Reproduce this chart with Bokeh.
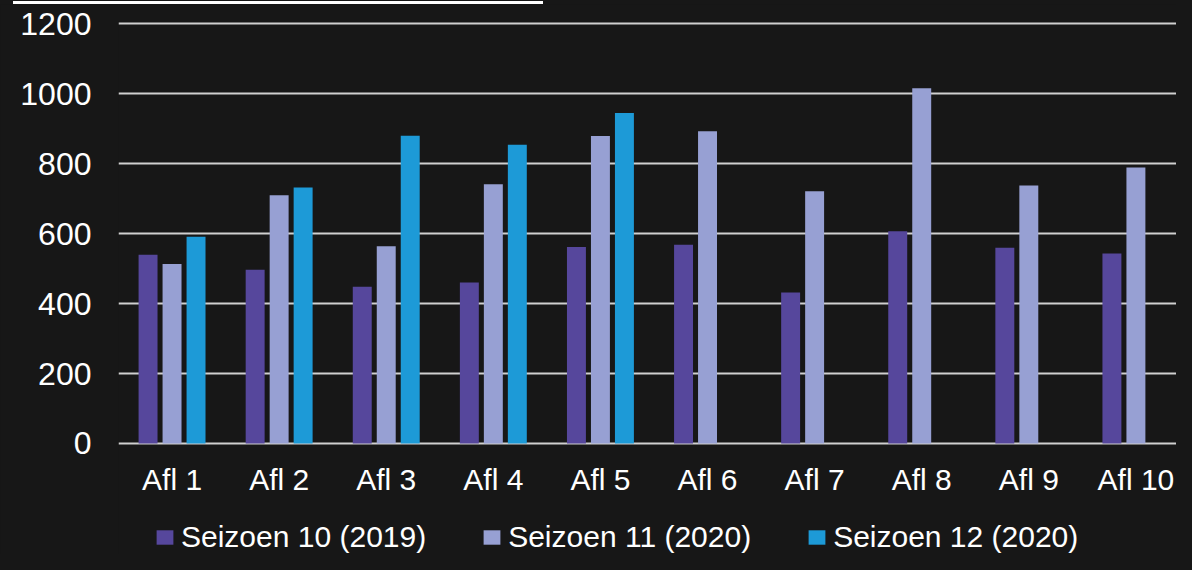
from bokeh.plotting import figure
from bokeh.models import (Range1d, FixedTicker, ColumnDataSource, Legend, LegendItem,
                          LinearAxis, Div, GlobalInlineStyleSheet)
from bokeh.layouts import column
from bokeh.transform import dodge
from bokeh.embed import file_html
from bokeh.resources import INLINE

# ---- data ----
categories = ["Afl 1", "Afl 2", "Afl 3", "Afl 4", "Afl 5",
              "Afl 6", "Afl 7", "Afl 8", "Afl 9", "Afl 10"]
seizoen_10 = [540, 497, 448, 460, 562, 568, 432, 607, 560, 543]
seizoen_11 = [513, 710, 564, 741, 879, 893, 721, 1016, 738, 789]
seizoen_12 = [591, 732, 880, 854, 945]
series_names = ["Seizoen 10 (2019)", "Seizoen 11 (2020)", "Seizoen 12 (2020)"]
y_ticks = [0, 200, 400, 600, 800, 1000, 1200]

colors = ["#56479c", "#97a0d3", "#1d9ad7"]
BG = "#171717"
FONT = "Liberation Sans"

idx = list(range(len(categories)))
src_a = ColumnDataSource(dict(x=idx, top=seizoen_10))
src_b = ColumnDataSource(dict(x=idx, top=seizoen_11))
src_c = ColumnDataSource(dict(x=idx[:len(seizoen_12)], top=seizoen_12))

p = figure(width=1176, height=550, output_backend="svg", toolbar_location=None,
           x_range=Range1d(-0.5, 9.379), y_range=Range1d(-317.4, 1206.6),
           x_axis_location=None,
           min_border_left=118, min_border_right=0, min_border_top=17,
           min_border_bottom=0)
p.background_fill_color = BG
p.border_fill_color = BG
p.outline_line_color = None
p.stylesheets = [GlobalInlineStyleSheet(css=f"body {{ background-color: {BG}; }}")]

bw = 0.177
off = 0.224
r1 = p.vbar(x=dodge("x", -off), top="top", width=bw, source=src_a,
            fill_color=colors[0], line_color=None)
r2 = p.vbar(x=dodge("x", 0.0), top="top", width=bw, source=src_b,
            fill_color=colors[1], line_color=None)
r3 = p.vbar(x=dodge("x", off), top="top", width=bw, source=src_c,
            fill_color=colors[2], line_color=None)

# category axis pinned at y = 0
xaxis = LinearAxis(fixed_location=0, ticker=FixedTicker(ticks=idx),
                   major_label_overrides={i: c for i, c in zip(idx, categories)})
p.add_layout(xaxis, "below")

p.yaxis.ticker = FixedTicker(ticks=y_ticks)
for ax in (xaxis, p.yaxis[0]):
    ax.axis_line_color = None
    ax.major_tick_line_color = None
    ax.minor_tick_line_color = None
    ax.major_tick_out = 0
    ax.major_tick_in = 0
    ax.major_label_text_color = "white"
    ax.major_label_text_font = FONT
xaxis.major_label_text_font_size = "30px"
p.yaxis.major_label_text_font_size = "32px"
xaxis.major_label_standoff = 20
p.yaxis.major_label_standoff = 27

for g in p.xgrid:
    g.grid_line_color = None
    g.visible = False
p.ygrid.ticker = FixedTicker(ticks=y_ticks)
p.ygrid.grid_line_color = "#d0d0d0"
p.ygrid.grid_line_width = 2

legend = Legend(items=[LegendItem(label=series_names[0], renderers=[r1]),
                       LegendItem(label=series_names[1], renderers=[r2]),
                       LegendItem(label=series_names[2], renderers=[r3])],
                orientation="horizontal", location=(36, 0),
                background_fill_alpha=0, border_line_color=None,
                label_text_color="white", label_text_font=FONT,
                label_text_font_size="30px", glyph_width=21, glyph_height=18,
                label_standoff=6, spacing=55, padding=0, margin=0)
p.add_layout(legend, "center")

# thin white rule at the very top-left
rule = Div(width=530, height=3, margin=(1, 0, 0, 13),
           styles={"background-color": "white"})

layout = column(rule, p, spacing=0)

open("out.html", "w").write(file_html(layout, INLINE))
